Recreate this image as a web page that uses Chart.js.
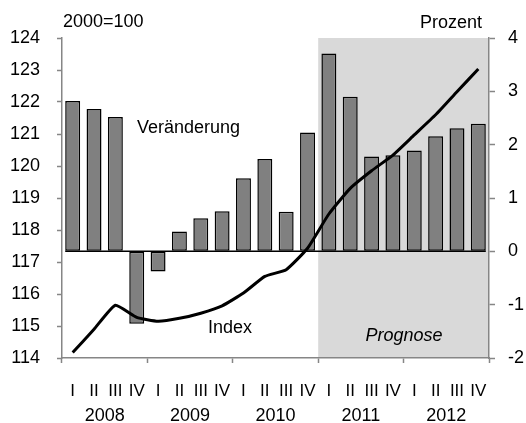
<!DOCTYPE html>
<html>
<head>
<meta charset="utf-8">
<script src="https://cdn.jsdelivr.net/npm/chart.js@4.4.0/dist/chart.umd.min.js"></script>
<style>
  html, body { margin: 0; padding: 0; background: #fff; }
  canvas { display: block; }
</style>
</head>
<body>
<canvas id="chart" width="526" height="423"></canvas>
<script>
// Quarter ticks and year labels
const quarterLabels = ["I", "II", "III", "IV", "I", "II", "III", "IV", "I", "II",
                       "III", "IV", "I", "II", "III", "IV", "I", "II", "III", "IV"];
const yearLabels = ["2008", "2009", "2010", "2011", "2012"];

// Veränderung gegenüber Vorjahresquartal (Prozent, rechte Achse)
const changeValues = [2.82, 2.67, 2.52, -1.36, -0.38, 0.37, 0.62, 0.75, 1.37, 1.73,
                      0.74, 2.23, 3.71, 2.90, 1.78, 1.80, 1.89, 2.16, 2.31, 2.39];

// Index 2000=100 (linke Achse)
const indexValues = [114.17, 114.90, 115.65, 115.27, 115.15, 115.24, 115.40, 115.63, 116.03, 116.55,
                     116.76, 117.43, 118.50, 119.30, 119.85, 120.34, 120.97, 121.60, 122.32, 123.03];

// first forecast quarter (2011 I)
const forecastStart = 12;

const FONT = "'Liberation Sans', Arial, sans-serif";
const AXIS_GRAY = "#868686";

// grey forecast band behind everything
const forecastBand = {
  id: "forecastBand",
  beforeDraw(chart) {
    const { ctx, chartArea, scales } = chart;
    const step = scales.x.getPixelForValue(1) - scales.x.getPixelForValue(0);
    const x0 = scales.x.getPixelForValue(forecastStart) - step / 2;
    ctx.save();
    ctx.fillStyle = "#d9d9d9";
    ctx.fillRect(x0, chartArea.top, chartArea.right - x0, chartArea.bottom - chartArea.top);
    ctx.restore();
  }
};

// black zero line, from first to last bar
const zeroLine = {
  id: "zeroLine",
  beforeDatasetsDraw(chart) {
    const bars = chart.getDatasetMeta(1).data;
    if (!bars.length) return;
    const first = bars[0], last = bars[bars.length - 1];
    const y = chart.scales.y1.getPixelForValue(0);
    const { ctx } = chart;
    ctx.save();
    ctx.strokeStyle = "#000";
    ctx.lineWidth = 1.5;
    ctx.beginPath();
    ctx.moveTo(first.x - first.width / 2, y);
    ctx.lineTo(last.x + last.width / 2, y);
    ctx.stroke();
    ctx.restore();
  }
};

// unit captions and series labels
const chartTexts = {
  id: "chartTexts",
  afterDraw(chart) {
    const { ctx, chartArea } = chart;
    ctx.save();
    ctx.fillStyle = "#000";
    ctx.textBaseline = "middle";
    ctx.font = "18px " + FONT;
    ctx.textAlign = "left";
    ctx.fillText("2000=100", chartArea.left + 1, 22);
    ctx.fillText("Veränderung", 137, 128);
    ctx.fillText("Index", 208, 328);
    ctx.textAlign = "right";
    ctx.fillText("Prozent", chartArea.right - 7, 23);
    ctx.font = "italic 18px " + FONT;
    ctx.textAlign = "center";
    ctx.fillText("Prognose", 404, 336);
    ctx.restore();
  }
};

// year boundary ticks only (every 4th quarter)
const yearTick = c => (c.index === undefined || c.index % 4 === 0) ? AXIS_GRAY : "transparent";

new Chart(document.getElementById("chart"), {
  type: "bar",
  data: {
    labels: quarterLabels,
    datasets: [
      {
        type: "line",
        label: "Index",
        data: indexValues,
        yAxisID: "y",
        borderColor: "#000",
        borderWidth: 3,
        pointRadius: 0,
        tension: 0.15,
        order: 0
      },
      {
        label: "Veränderung",
        data: changeValues,
        yAxisID: "y1",
        backgroundColor: "#808080",
        borderColor: "#000",
        borderWidth: 1.5,
        borderSkipped: false,
        barPercentage: 0.7,
        categoryPercentage: 1,
        order: 1
      }
    ]
  },
  options: {
    responsive: false,
    animation: false,
    layout: { padding: { top: 38, left: 0, right: 0, bottom: 0 } },
    plugins: {
      legend: { display: false },
      tooltip: { enabled: false }
    },
    scales: {
      x: {
        type: "category",
        position: "bottom",
        offset: true,
        grid: {
          offset: true,
          drawOnChartArea: false,
          tickLength: 5,
          tickWidth: 1.5,
          color: yearTick,
          tickColor: yearTick
        },
        border: { color: AXIS_GRAY, width: 1.5 },
        ticks: {
          color: "#000",
          font: { family: FONT, size: 17 },
          padding: 18,
          autoSkip: false,
          maxRotation: 0
        },
        afterFit: s => { s.height = 45; }
      },
      x2: {
        type: "category",
        labels: yearLabels,
        position: "bottom",
        weight: 1,
        offset: true,
        grid: { display: false, drawTicks: false },
        border: { display: false },
        ticks: {
          color: "#000",
          font: { family: FONT, size: 18 },
          padding: 2,
          maxRotation: 0
        },
        afterFit: s => { s.height = 20; }
      },
      y: {
        position: "left",
        min: 114,
        max: 124,
        ticks: {
          stepSize: 1,
          color: "#000",
          font: { family: FONT, size: 18 },
          padding: 17
        },
        grid: {
          drawOnChartArea: false,
          tickLength: 5,
          tickWidth: 1.5,
          color: AXIS_GRAY
        },
        border: { color: AXIS_GRAY, width: 1.5 },
        afterFit: s => { s.width = 62; }
      },
      y1: {
        position: "right",
        min: -2,
        max: 4,
        ticks: {
          stepSize: 1,
          color: "#000",
          font: { family: FONT, size: 18 },
          padding: 13
        },
        grid: {
          drawOnChartArea: false,
          tickColor: AXIS_GRAY,
          tickLength: 6,
          tickWidth: 1.5,
          color: AXIS_GRAY
        },
        border: { color: AXIS_GRAY, width: 1.5 },
        afterFit: s => { s.width = 37; }
      }
    }
  },
  plugins: [forecastBand, zeroLine, chartTexts]
});
</script>
</body>
</html>
